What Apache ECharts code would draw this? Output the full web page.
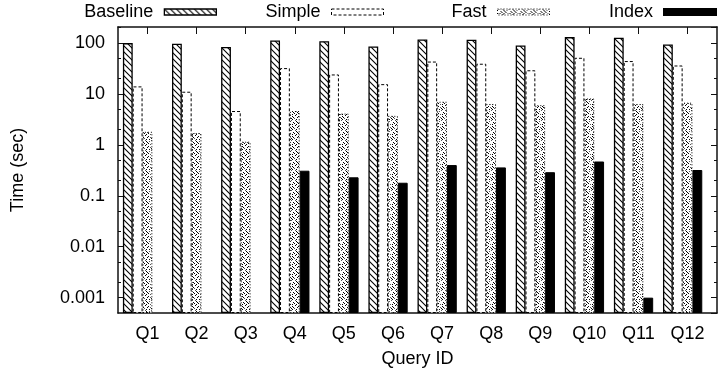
<!DOCTYPE html>
<html>
<head>
<meta charset="utf-8">
<script src="https://cdn.jsdelivr.net/npm/echarts@6/dist/echarts.min.js"></script>
<style>
  html, body { margin: 0; padding: 0; background: #fff; }
  #chart { width: 718px; height: 376px; }
</style>
</head>
<body>
<div id="chart"></div>
<script>
const queries = ['Q1', 'Q2', 'Q3', 'Q4', 'Q5', 'Q6', 'Q7', 'Q8', 'Q9', 'Q10', 'Q11', 'Q12'];
const baseline = [99, 96, 83, 112, 108, 85, 117, 115, 89, 130, 126, 93];
const simple = [14, 11, 4.6, 32, 24, 15.5, 43, 39, 29, 51, 44, 36];
const fast = [1.8, 1.7, 1.15, 4.6, 4.1, 3.7, 7.0, 6.3, 6.0, 8.1, 6.3, 6.7];
const indexed = [null, null, null, 0.31, 0.23, 0.18, 0.40, 0.36, 0.29, 0.47, 0.001, 0.32];
const minorTicks = [0.002, 0.005, 0.02, 0.05, 0.2, 0.5, 2, 5, 20, 50, 200];

const FONT = '"Liberation Sans", Arial, sans-serif';
const yMin = 0.0005, yMax = 205;
const xMin = -0.6, xMax = 11.6;

// "\\\" hatch for Baseline
function hatchPattern() {
  const c = document.createElement('canvas');
  c.width = 6; c.height = 6;
  const g = c.getContext('2d');
  g.fillStyle = '#fff';
  g.fillRect(0, 0, 6, 6);
  g.strokeStyle = '#000';
  g.lineWidth = 1.1;
  g.beginPath();
  g.moveTo(-1, -1); g.lineTo(7, 7);
  g.moveTo(-1, 5); g.lineTo(1, 7);
  g.moveTo(5, -1); g.lineTo(7, 1);
  g.stroke();
  return { image: c, repeat: 'repeat' };
}

// speckled dots for Fast
function dotPattern() {
  const c = document.createElement('canvas');
  c.width = 10; c.height = 10;
  const g = c.getContext('2d');
  g.fillStyle = '#fff';
  g.fillRect(0, 0, 10, 10);
  const dots = [[1,0],[6,1],[3,2],[8,3],[0,4],[5,5],[2,6],[7,7],[4,8],[9,9],[1,8],[6,4],
                [9,1],[4,3],[2,4],[8,6],[0,7],[6,9],[3,7],[7,2],[5,0],[2,9]];
  dots.forEach(([x, y], i) => {
    g.fillStyle = i % 4 === 0 ? '#555' : '#000';
    g.fillRect(x, y, 1, 1);
  });
  return { image: c, repeat: 'repeat' };
}

const chart = echarts.init(document.getElementById('chart'));
const toPairs = arr => arr.map((v, i) => [i, v]);
const catIdx = queries.map((q, i) => i);

function legendFor(item, right) {
  return {
    data: [item], right: right, top: 3, padding: 0, align: 'right', icon: 'rect',
    itemWidth: 52, itemHeight: 6, selectedMode: false,
    textStyle: { fontSize: 18, fontFamily: FONT, color: '#000', padding: [0, 6, 0, 0] }
  };
}

const yBase = { type: 'log', min: yMin, max: yMax, startValue: yMin, splitLine: { show: false } };
const frameLine = { show: true, onZero: false, lineStyle: { color: '#111', width: 1.5 } };
const hiddenLine = { show: false, onZero: false };
const tickStyle = { color: '#111', width: 1 };

const option = {
  animation: false,
  backgroundColor: '#fff',
  legend: [
    legendFor({ name: 'Baseline', itemStyle: { borderWidth: 1.3 } }, 501),
    legendFor({ name: 'Simple', itemStyle: { borderType: [3, 2], borderWidth: 1 } }, 334),
    legendFor({ name: 'Fast', itemStyle: { borderType: [1, 2], borderWidth: 1 } }, 168),
    legendFor({ name: 'Index' }, 1)
  ],
  grid: { left: 118, right: 1, top: 27, bottom: 63 },
  xAxis: [
    {
      type: 'value', min: xMin, max: xMax,
      name: 'Query ID', nameLocation: 'middle', nameGap: 37,
      nameTextStyle: { fontSize: 18, fontFamily: FONT, color: '#000' },
      axisLine: frameLine,
      axisTick: { inside: true, length: 6, customValues: catIdx, lineStyle: tickStyle },
      axisLabel: { customValues: catIdx, margin: 12, fontSize: 18, fontFamily: FONT, color: '#000',
        formatter: v => queries[v] || '' },
      splitLine: { show: false }
    },
    {
      type: 'value', position: 'top', min: xMin, max: xMax,
      axisLine: frameLine,
      axisTick: { inside: true, length: 7, customValues: catIdx, lineStyle: tickStyle },
      axisLabel: { show: false },
      splitLine: { show: false }
    }
  ],
  yAxis: [
    Object.assign({}, yBase, {
      position: 'left', name: 'Time (sec)', nameLocation: 'middle', nameGap: 91,
      nameTextStyle: { fontSize: 18, fontFamily: FONT, color: '#000' },
      axisLine: frameLine,
      axisTick: { inside: true, length: 6, lineStyle: tickStyle },
      axisLabel: { margin: 13, showMinLabel: false, showMaxLabel: false, fontSize: 18, fontFamily: FONT, color: '#000',
        formatter: v => String(+(+v).toPrecision(3)) }
    }),
    Object.assign({}, yBase, {
      position: 'right', axisLine: frameLine,
      axisTick: { inside: true, length: 6, lineStyle: tickStyle },
      axisLabel: { show: false }
    }),
    Object.assign({}, yBase, {
      position: 'left', axisLine: hiddenLine,
      axisTick: { inside: true, length: 3, customValues: minorTicks, lineStyle: tickStyle },
      axisLabel: { show: false }
    }),
    Object.assign({}, yBase, {
      position: 'right', axisLine: hiddenLine,
      axisTick: { inside: true, length: 3, customValues: minorTicks, lineStyle: tickStyle },
      axisLabel: { show: false }
    })
  ],
  series: [
    { name: 'Baseline', type: 'bar', barGap: '0%', barCategoryGap: '0%',
      itemStyle: { color: hatchPattern(), borderColor: '#000', borderWidth: 1.3 }, data: toPairs(baseline) },
    { name: 'Simple', type: 'bar',
      itemStyle: { color: '#fff', borderColor: '#000', borderWidth: 1, borderType: [3, 2] }, data: toPairs(simple) },
    { name: 'Fast', type: 'bar',
      itemStyle: { color: dotPattern(), borderColor: '#000', borderWidth: 1, borderType: [1, 2] }, data: toPairs(fast) },
    { name: 'Index', type: 'bar',
      itemStyle: { color: '#000', borderColor: '#000', borderWidth: 1 }, data: toPairs(indexed) },
    // empty fifth slot: the gap between histogram clusters
    { name: 'gap', type: 'bar', data: [] }
  ]
};

chart.setOption(option);
</script>
</body>
</html>
